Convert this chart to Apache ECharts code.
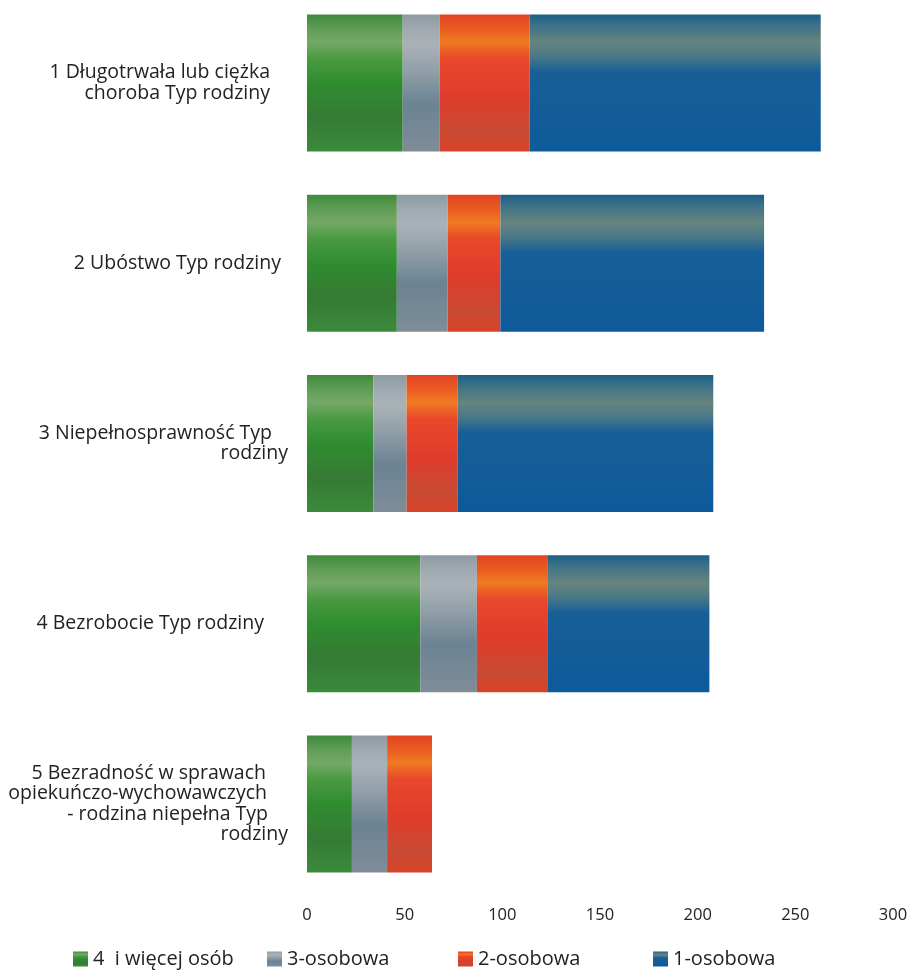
<!DOCTYPE html>
<html>
<head>
<meta charset="utf-8">
<script src="https://cdn.jsdelivr.net/npm/echarts@6/dist/echarts.min.js"></script>
<style>
html,body{margin:0;padding:0;background:#fff;overflow:hidden;}
#c{position:absolute;left:0;top:-7px;width:919px;height:977px;}
</style>
</head>
<body>
<div id="c"></div>
<script>
const categories = [
  "1 Długotrwała lub ciężka\nchoroba Typ rodziny",
  "2 Ubóstwo Typ rodziny",
  "3 Niepełnosprawność Typ\nrodziny",
  "4 Bezrobocie Typ rodziny",
  "5 Bezradność w sprawach\nopiekuńczo-wychowawczych\n- rodzina niepełna Typ\nrodziny"
];
const seriesNames = ["4  i więcej osób", "3-osobowa", "2-osobowa", "1-osobowa"];
const s4plus = [49, 46, 34, 58, 23];
const s3 = [19, 26, 17, 29, 18];
const s2 = [46, 27, 26, 36, 23];
const s1 = [149, 135, 131, 83, 0];
const xTicks = [0, 50, 100, 150, 200, 250, 300];

// per-line right offsets of the category labels (layout only)
const linePads = [[18, 18], [7], [16, 0], [24], [22, 21, 20, 0]];

function grad(stops) {
  return new echarts.graphic.LinearGradient(0, 0, 0, 1,
    stops.map(s => ({offset: s[0], color: s[1]})));
}
const colors = [
  grad([[0,'#3f8a3c'],[0.1,'#5f9c55'],[0.2,'#76a868'],[0.32,'#4a9a42'],[0.5,'#2f8d2f'],[0.75,'#357a35'],[1,'#3b8a3b']]),
  grad([[0,'#8e9aa2'],[0.12,'#a2abb2'],[0.22,'#aab2b8'],[0.4,'#93a0a8'],[0.65,'#6b8394'],[1,'#7f8d98']]),
  grad([[0,'#e24422'],[0.1,'#ea5a22'],[0.2,'#f07a22'],[0.32,'#e8482a'],[0.6,'#e03c2c'],[0.85,'#c84a32'],[1,'#d84228']]),
  grad([[0,'#1c5f86'],[0.08,'#3d7288'],[0.2,'#66847f'],[0.3,'#4c7a86'],[0.42,'#185f98'],[1,'#0d5a9a']])
];
const legendColors = ['#3a9a3a', '#7d8e9b', '#e4402a', '#1462a0'];
const data = [s4plus, s3, s2, s1];
const legendLeft = [73, 267, 458, 653];
const font = "'Open Sans', 'DejaVu Sans', sans-serif";

const rich = {};
for (let p = 0; p <= 30; p++) {
  rich['p' + p] = {fontFamily: font, fontSize: 19.5, color: '#222', lineHeight: 20.5, padding: [0, p, 0, 0]};
}

const chart = echarts.init(document.getElementById('c'), null, {renderer: 'canvas'});
chart.setOption({
  animation: false,
  backgroundColor: '#ffffff',
  color: legendColors,
  grid: {left: 307, right: 26, top: 0, bottom: 76, containLabel: false},
  legend: seriesNames.map((n, i) => ({
    data: [n],
    left: legendLeft[i],
    top: 956,
    padding: 0,
    itemWidth: 15,
    itemHeight: 15,
    itemGap: 0,
    icon: 'rect',
    textStyle: {fontFamily: font, fontSize: 20, color: '#222'}
  })),
  xAxis: {
    type: 'value',
    min: 0, max: 300, interval: 50,
    axisLine: {show: false},
    axisTick: {show: false},
    splitLine: {show: false},
    axisLabel: {fontFamily: font, fontSize: 16.5, color: '#222', margin: 13,
      formatter: v => xTicks.includes(v) ? String(v) : ''}
  },
  yAxis: {
    type: 'category',
    data: categories,
    inverse: true,
    axisLine: {show: false},
    axisTick: {show: false},
    axisLabel: {
      fontFamily: font, fontSize: 19.5, color: '#222', margin: 19, lineHeight: 20.5, align: 'right',
      formatter: (v, idx) => {
        const pads = linePads[idx] || [];
        return v.split('\n').map((line, j) => '{p' + (pads[j] || 0) + '|' + line + '}').join('\n');
      },
      rich: rich
    }
  },
  series: seriesNames.map((n, i) => ({
    name: n,
    type: 'bar',
    stack: 'total',
    barCategoryGap: '24%',
    data: data[i],
    itemStyle: {color: colors[i]},
    emphasis: {disabled: true}
  }))
});
</script>
</body>
</html>
